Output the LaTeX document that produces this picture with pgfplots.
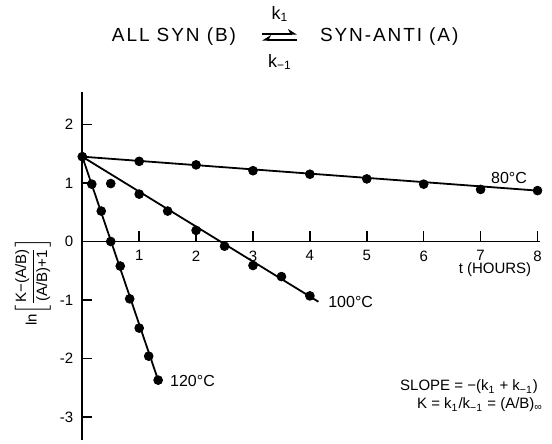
\documentclass[border=0pt]{standalone}
\usepackage{fontspec}
\setmainfont{Liberation Sans}
\usepackage{amsmath}
\usepackage{pgfplots}
\pgfplotsset{compat=1.18}
\usetikzlibrary{arrows.meta}

% 1 px of the reference = 0.5pt here
\begin{document}
\begin{tikzpicture}
\useasboundingbox (0,0) rectangle (276pt,222pt);
\begin{axis}[
    at={(41.15pt,101.25pt)}, anchor=origin,
    x=28.45pt, y=29.25pt,
    xmin=0, xmax=8.05, ymin=-3.4, ymax=2.55,
    axis lines=middle,
    axis line style={-, line width=0.8pt},
    xtick={1,...,8}, ytick={-3,...,2},
    hide obscured y ticks=false,
    tick align=inside,
    major tick length=5pt,
    tick style={line width=0.7pt, black},
    ticklabel style={font=\fontsize{7.5}{9}\selectfont},
    /pgf/number format/assume math mode=true,
    xticklabel style={yshift=-1pt},
    yticklabel style={xshift=-1pt},
    clip=false,
]
% 80 C, every hour
\addplot[only marks, mark=*, mark size=2.2pt] coordinates {
    (0,1.45) (1,1.37) (2,1.31) (3,1.21) (4,1.15) (5,1.07) (6,0.98) (7,0.89) (8,0.87)
};
\addplot[no marks, line width=0.9pt] coordinates {(0,1.45) (8,0.87)};
% 100 C, every half hour
\addplot[only marks, mark=*, mark size=2.2pt] coordinates {
    (0.5,0.99) (1,0.81) (1.5,0.52) (2,0.19) (2.5,-0.08) (3,-0.41) (3.5,-0.60) (4,-0.93)
};
\addplot[no marks, line width=0.9pt] coordinates {(0,1.45) (4.15,-1.03)};
% 120 C, every 10 minutes
\addplot[only marks, mark=*, mark size=2.2pt] coordinates {
    (0.167,0.98) (0.333,0.52) (0.5,0.0) (0.667,-0.42) (0.833,-0.98) (1.0,-1.48) (1.167,-1.96) (1.333,-2.37)
};
\addplot[no marks, line width=0.9pt] coordinates {(0,1.45) (1.333,-2.37)};
\node[font=\fontsize{8}{9}\selectfont] at (axis cs:7.5,1.08) {80°C};
\node[anchor=west, font=\fontsize{8}{9}\selectfont] at (axis cs:4.2,-1.04) {100°C};
\node[anchor=west, font=\fontsize{8}{9}\selectfont] at (axis cs:1.42,-2.38) {120°C};
\end{axis}

% title with the equilibrium arrows
\node[anchor=east, font=\fontsize{9.5}{11}\selectfont\addfontfeature{LetterSpace=10}] at (121.5pt,203.5pt) {ALL SYN (B)};
\node[anchor=west, font=\fontsize{9.5}{11}\selectfont\addfontfeature{LetterSpace=10}] at (156.5pt,203.5pt) {SYN-ANTI (A)};
\draw[line width=0.8pt, -{Stealth[harpoon, length=4pt, width=5pt]}] (131pt,205pt) -- (148.5pt,205pt);
\draw[line width=0.8pt, -{Stealth[harpoon, swap, length=4pt, width=5pt]}] (148.5pt,202pt) -- (131pt,202pt);
\node[font=\fontsize{9}{10}\selectfont] at (140pt,215pt) {k\textsubscript{1}};
\node[font=\fontsize{9}{10}\selectfont] at (140pt,191pt) {k\textsubscript{−1}};

% y label
\node[rotate=90, font=\fontsize{7.5}{9}\selectfont] at (16.5pt,81pt)
    {ln$\left[\dfrac{\text{K−(A/B)}}{\text{(A/B)+1}}\right]$};
% x label
\node[font=\fontsize{7.5}{9}\selectfont] at (247.5pt,87pt) {t (HOURS)};

% slope note
\node[anchor=east, font=\fontsize{7.5}{9}\selectfont] at (272.5pt,28.5pt)
    {SLOPE = −(k\textsubscript{1} + k\textsubscript{−1})};
\node[anchor=east, font=\fontsize{7.5}{9}\selectfont] at (275pt,19.5pt)
    {K = k\textsubscript{1}/k\textsubscript{−1} = (A/B)\textsubscript{∞}};
\end{tikzpicture}
\end{document}
